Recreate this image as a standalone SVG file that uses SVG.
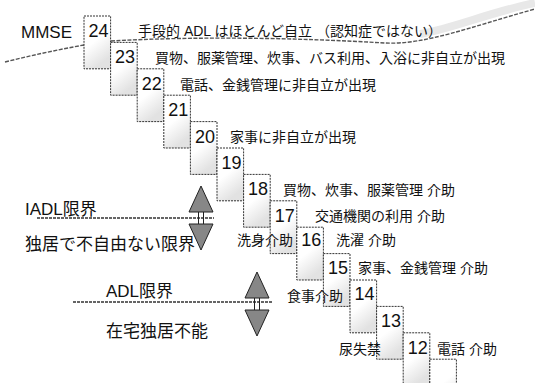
<svg xmlns="http://www.w3.org/2000/svg" width="535" height="383" viewBox="0 0 535 383">
<style>
  .box { fill: url(#speckle); stroke: #333; stroke-width: 1; stroke-dasharray: 2 1; }
  .num { font-family: "Liberation Sans", Arial, sans-serif; font-size: 18px; fill: #111; }
  .lbl { font-family: "Liberation Sans", "Noto Sans CJK JP", sans-serif; font-size: 14px; fill: #111; }
  .big { font-family: "Liberation Sans", "Noto Sans CJK JP", sans-serif; font-size: 17px; fill: #111; }
  .limit { stroke: #333; stroke-width: 1.3; stroke-dasharray: 3 1; fill: none; }
  .tri { fill: #878787; stroke: #222; stroke-width: 1; }
  .stem { stroke: #222; stroke-width: 1; }
  .wave { fill: none; stroke: #555; stroke-width: 1.4; stroke-dasharray: 4 1.5; }
  .haze { fill: none; stroke: #e8e8e8; stroke-width: 8; }
</style>
<defs>
  <linearGradient id="speckle" x1="0" y1="0" x2="0.4" y2="1">
    <stop offset="0" stop-color="#ffffff"/>
    <stop offset="0.55" stop-color="#ffffff"/>
    <stop offset="1" stop-color="#e2e2e2"/>
  </linearGradient>
</defs>
<rect width="535" height="383" fill="#ffffff"/>

<g id="decoration">
  <path class="haze" d="M420,34 C455,28 490,12 535,3"/>
  <path class="wave" d="M5,62 Q45,52 84,45"/>
  <path class="wave" d="M111,41 C200,36 300,38 385,43 C425,45 470,27 535,9"/>
  <text class="big" x="21" y="38">MMSE</text>
</g>

<g id="step24" transform="translate(84,16)">
  <rect class="box" width="26.6" height="52.8"/>
  <text class="num" x="4.5" y="21">24</text>
  <text class="lbl" x="54" y="20">手段的  ADL はほとんど自立 （認知症ではない）</text>
</g>
<g id="step23" transform="translate(110.6,42.4)">
  <rect class="box" width="26.6" height="52.8"/>
  <text class="num" x="4.5" y="21">23</text>
  <text class="lbl" x="44.4" y="21">買物、服薬管理、炊事、バス利用、入浴に非自立が出現</text>
</g>
<g id="step22" transform="translate(137.2,68.8)">
  <rect class="box" width="26.6" height="52.8"/>
  <text class="num" x="4.5" y="21">22</text>
  <text class="lbl" x="42.8" y="21">電話、金銭管理に非自立が出現</text>
</g>
<g id="step21" transform="translate(163.8,95.2)">
  <rect class="box" width="26.6" height="52.8"/>
  <text class="num" x="4.5" y="21">21</text>
</g>
<g id="step20" transform="translate(190.4,121.6)">
  <rect class="box" width="26.6" height="52.8"/>
  <text class="num" x="4.5" y="21">20</text>
  <text class="lbl" x="39.6" y="20">家事に非自立が出現</text>
</g>
<g id="step19" transform="translate(217,148)">
  <rect class="box" width="26.6" height="52.8"/>
  <text class="num" x="4.5" y="21">19</text>
</g>
<g id="step18" transform="translate(243.6,174.4)">
  <rect class="box" width="26.6" height="52.8"/>
  <text class="num" x="4.5" y="21">18</text>
  <text class="lbl" x="39.4" y="21">買物、炊事、服薬管理 介助</text>
</g>
<g id="step17" transform="translate(270.2,200.8)">
  <rect class="box" width="26.6" height="52.8"/>
  <text class="num" x="4.5" y="21">17</text>
  <text class="lbl" x="44.8" y="20">交通機関の利用 介助</text>
</g>
<g id="step16" transform="translate(296.8,227.2)">
  <rect class="box" width="26.6" height="52.8"/>
  <text class="num" x="4.5" y="19">16</text>
  <text class="lbl" x="39.2" y="18">洗濯 介助</text>
  <text class="lbl" x="-59.8" y="18">洗身介助</text>
</g>
<g id="step15" transform="translate(323.4,253.6)">
  <rect class="box" width="26.6" height="52.8"/>
  <text class="num" x="4.5" y="20">15</text>
  <text class="lbl" x="34.6" y="19">家事、金銭管理 介助</text>
</g>
<g id="step14" transform="translate(350,280)">
  <rect class="box" width="26.6" height="52.8"/>
  <text class="num" x="4.5" y="20">14</text>
  <text class="lbl" x="-63" y="21">食事介助</text>
</g>
<g id="step13" transform="translate(376.6,306.4)">
  <rect class="box" width="26.6" height="52.8"/>
  <text class="num" x="4.5" y="21">13</text>
</g>
<g id="step12" transform="translate(403.2,332.8)">
  <rect class="box" width="26.6" height="52.8"/>
  <text class="num" x="4.5" y="21">12</text>
  <text class="lbl" x="33.8" y="21">電話 介助</text>
  <text class="lbl" x="-64.2" y="21">尿失禁</text>
</g>
<g id="step11" transform="translate(429.8,359.2)">
  <rect class="box" width="26.6" height="52.8"/>
</g>

<g id="connectors">
  <g id="iadl-limit">
    <line class="limit" x1="37" y1="218" x2="214" y2="218"/>
    <polygon class="tri" points="201,186 213,212 189,212"/>
    <line class="stem" x1="198.5" y1="212" x2="198.5" y2="224"/>
    <line class="stem" x1="203.5" y1="212" x2="203.5" y2="224"/>
    <polygon class="tri" points="189,224 213,224 201,250"/>
  </g>
  <g id="adl-limit">
    <line class="limit" x1="73" y1="302" x2="273" y2="302"/>
    <polygon class="tri" points="257,272 269,298 245,298"/>
    <line class="stem" x1="254.5" y1="298" x2="254.5" y2="310"/>
    <line class="stem" x1="259.5" y1="298" x2="259.5" y2="310"/>
    <polygon class="tri" points="245,310 269,310 257,336"/>
  </g>
</g>

<g id="iadl-labels">
  <text class="big" x="25" y="215">IADL限界</text>
  <text class="big" x="25" y="250">独居で不自由ない限界</text>
</g>
<g id="adl-labels">
  <text class="big" x="106" y="297">ADL限界</text>
  <text class="big" x="106" y="337">在宅独居不能</text>
</g>
</svg>
